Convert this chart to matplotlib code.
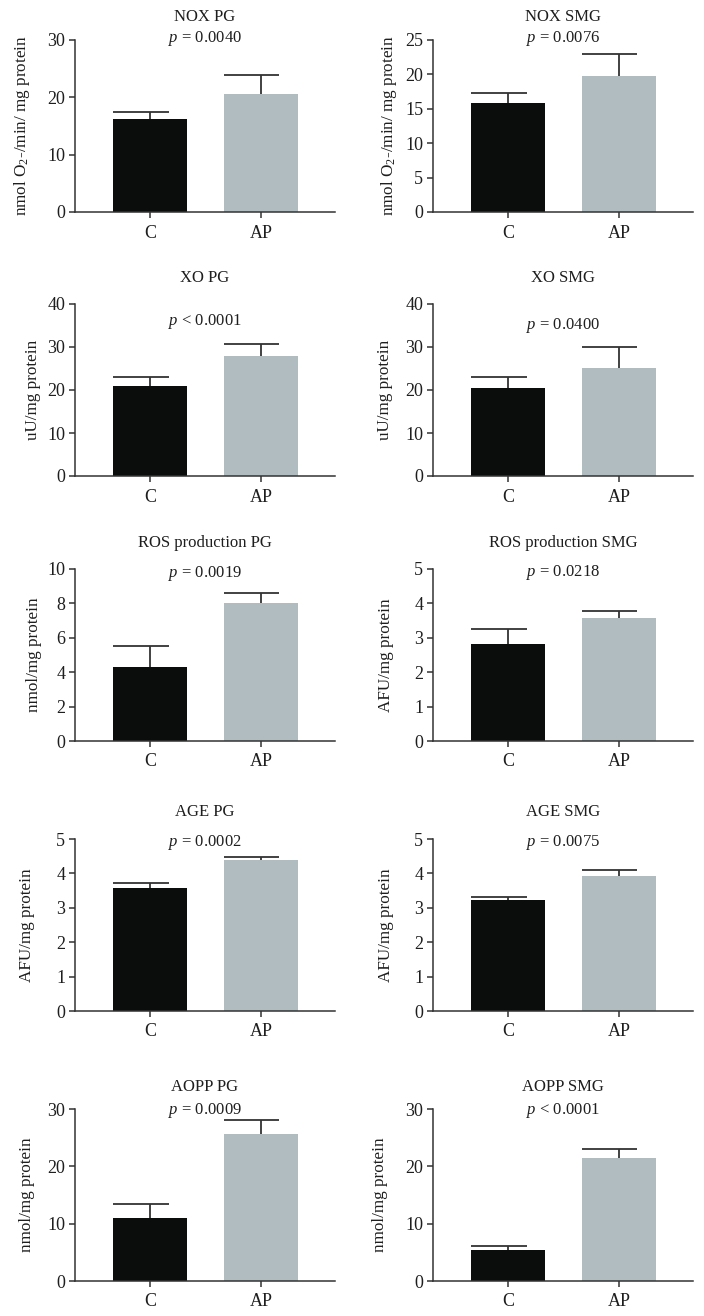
import numpy as np
import matplotlib
matplotlib.use('Agg')
import matplotlib.pyplot as plt

plt.rcParams['font.family'] = ['Liberation Serif', 'DejaVu Serif']
plt.rcParams['mathtext.fontset'] = 'custom'
plt.rcParams['mathtext.rm'] = 'Liberation Serif'
plt.rcParams['mathtext.it'] = 'Liberation Serif:italic'

# ---------------------------------------------------------------------------
#   data (mean and upper error, C vs AP)
groups = ['C', 'AP']
titles = ['NOX PG', 'NOX SMG', 'XO PG', 'XO SMG',
          'ROS production PG', 'ROS production SMG',
          'AGE PG', 'AGE SMG', 'AOPP PG', 'AOPP SMG']
pvals = ['= 0.0040', '= 0.0076', '< 0.0001', '= 0.0400', '= 0.0019',
         '= 0.0218', '= 0.0002', '= 0.0075', '= 0.0009', '< 0.0001']
nox_label = r'nmol O$_2$-/min/ mg protein'
ylabels = [nox_label, nox_label, 'uU/mg protein', 'uU/mg protein',
           'nmol/mg protein', 'AFU/mg protein', 'AFU/mg protein',
           'AFU/mg protein', 'nmol/mg protein', 'nmol/mg protein']
ymax = [30, 25, 40, 40, 10, 5, 5, 5, 30, 30]
ystep = [10, 5, 10, 10, 2, 1, 1, 1, 10, 10]
c_mean = [16.3, 15.9, 20.9, 20.35, 4.29, 2.83, 3.58, 3.23, 11.0, 5.33]
c_err = [1.1, 1.4, 2.06, 2.75, 1.26, 0.44, 0.14, 0.08, 2.46, 0.76]
ap_mean = [20.6, 19.75, 27.97, 25.0, 8.01, 3.57, 4.40, 3.92, 25.6, 21.47]
ap_err = [3.3, 3.15, 2.78, 5.06, 0.60, 0.21, 0.07, 0.19, 2.43, 1.53]

# ---------------------------------------------------------------------------
#   layout in pixels
W, H = 704, 1316
col_left = [75, 433]
row_top = [40, 304, 569, 839, 1109]
ax_w, ax_h = 260, 172
title_y = [17, 278, 543, 812, 1087]
p_y = [38, 39, 322, 326, 574, 573, 843, 843, 1110, 1110]
label_x = [-53, -44, -42, -48, -41, -47, -48, -47, -48, -53]

c_color = '#0b0c0c'
ap_color = '#b0bcc0'
ink = '#1e1e1e'
line_c = '#333333'

fig = plt.figure(figsize=(W / 100, H / 100), dpi=100)
x = np.arange(len(groups))
bar_w = 0.67

for i in range(len(titles)):
    r, c = divmod(i, 2)
    left = col_left[c]; top = row_top[r]
    ax = fig.add_axes([left / W, 1 - (top + ax_h) / H, ax_w / W, ax_h / H])

    means = np.array([c_mean[i], ap_mean[i]])
    tops = means + np.array([c_err[i], ap_err[i]])
    ax.bar(x, means, width=bar_w, color=[c_color, ap_color], zorder=2)
    ax.vlines(x, means, tops, color=line_c, lw=1.3, zorder=1)
    ax.hlines(tops, x - bar_w / 2, x + bar_w / 4, color=line_c, lw=1.3, zorder=1)

    ax.set_xlim(-0.68, 1.67)
    ax.set_ylim(0, ymax[i])
    ax.set_yticks(np.arange(0, ymax[i] + ystep[i] / 2, ystep[i]))
    ax.set_xticks(x)
    ax.set_xticklabels(groups)

    for s in ['top', 'right']:
        ax.spines[s].set_visible(False)
    for s in ['left', 'bottom']:
        ax.spines[s].set_color(line_c)
        ax.spines[s].set_linewidth(1.1)
    ax.tick_params(axis='both', direction='out', length=4, width=1.1,
                   color=line_c, labelcolor=ink, labelsize=13)
    ax.tick_params(axis='y', pad=3)
    ax.tick_params(axis='x', pad=5)

    ax.set_ylabel(ylabels[i], fontsize=12.3, color=ink, va='center')
    ax.yaxis.set_label_coords(label_x[i] / ax_w, 0.5)

    ax.text(0.5, 1 + (top - title_y[r]) / ax_h, titles[i], transform=ax.transAxes,
            ha='center', va='center', fontsize=12, color=ink)
    ax.text(0.5, 1 + (top - p_y[i]) / ax_h, r'$p$ ' + pvals[i], transform=ax.transAxes,
            ha='center', va='center', fontsize=12, color=ink)

fig.savefig('out.png', dpi=100)
